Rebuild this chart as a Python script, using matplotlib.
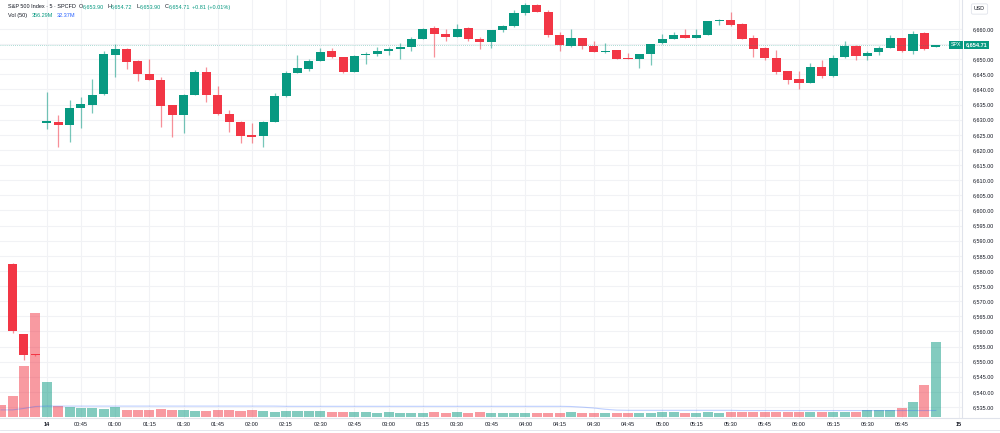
import numpy as np
import matplotlib
matplotlib.use("Agg")
import matplotlib.pyplot as plt

plt.rcParams["font.family"] = ["Liberation Sans", "DejaVu Sans"]

UP = "#089981"
DOWN = "#F23645"
TEXT = "#131722"
GRID = "#F1F2F5"
LINE = "#E0E3EB"

# 5 min bars, index 0 = first bar of the 14th (00:30); -4..-1 are the close of the 13th
bar_idx = list(range(-4, 79))
nan = float("nan")
opens = [nan, 6582.2, 6559.1, 6552.4,
         6628.9, 6629.3, 6628.4, 6633.9, 6635.0, 6638.4, 6651.3, 6653.5, 6649.4, 6645.2,
         6643.2, 6634.8, 6631.7, 6638.3, 6645.7, 6638.3, 6632.0, 6629.3, 6624.9, 6624.5,
         6629.3, 6637.7, 6645.4, 6646.9, 6649.5, 6652.6, 6650.7, 6645.9, 6651.4, 6651.6,
         6652.7, 6653.4, 6654.1, 6656.7, 6660.2, 6658.4, 6657.5, 6660.3, 6656.7, 6655.6,
         6659.6, 6660.9, 6665.3, 6667.9, 6665.6, 6658.1, 6654.5, 6657.0, 6654.3, 6652.3,
         6653.0, 6650.4, 6650.2, 6651.7, 6655.4, 6656.7, 6658.1, 6657.1, 6658.0, 6662.6,
         6662.9, 6661.7, 6657.0, 6653.8, 6650.5, 6646.0, 6643.5, 6642.1, 6647.4, 6644.3,
         6650.6, 6654.5, 6651.0, 6652.3, 6653.8, 6657.0, 6652.7, 6658.7, 6653.90]
highs = [nan, 6582.6, 6559.3, 6552.5,
         6639.3, 6631.6, 6636.5, 6637.4, 6643.5, 6652.6, 6654.9, 6653.7, 6649.6, 6650.0,
         6644.2, 6635.0, 6638.5, 6646.4, 6647.5, 6641.2, 6633.2, 6629.5, 6628.8, 6629.5,
         6638.9, 6646.0, 6651.4, 6650.0, 6653.8, 6653.6, 6650.8, 6651.3, 6652.5, 6654.0,
         6654.1, 6655.5, 6657.4, 6660.3, 6661.0, 6659.9, 6661.7, 6660.5, 6657.4, 6659.8,
         6661.3, 6666.2, 6668.7, 6668.3, 6666.2, 6659.0, 6660.0, 6657.1, 6655.9, 6655.3,
         6653.1, 6652.2, 6651.8, 6655.2, 6658.2, 6659.1, 6659.9, 6659.9, 6662.8, 6663.3,
         6665.6, 6662.1, 6658.1, 6653.9, 6653.0, 6646.1, 6646.1, 6648.7, 6649.6, 6651.3,
         6656.0, 6654.6, 6652.7, 6654.4, 6658.0, 6657.1, 6659.2, 6659.0, 6654.72]
lows = [nan, 6559.5, 6550.5, 6552.0,
        6627.0, 6620.9, 6622.6, 6627.2, 6632.1, 6638.2, 6644.2, 6646.9, 6642.9, 6643.0,
        6627.5, 6624.4, 6625.7, 6638.2, 6635.9, 6631.6, 6626.0, 6622.4, 6622.2, 6621.1,
        6629.2, 6637.4, 6645.3, 6646.0, 6649.4, 6650.5, 6645.5, 6645.8, 6648.5, 6651.1,
        6651.3, 6650.2, 6652.8, 6656.6, 6650.8, 6656.1, 6657.4, 6656.1, 6653.5, 6653.8,
        6658.9, 6660.8, 6664.7, 6665.5, 6657.4, 6652.8, 6653.9, 6653.5, 6652.4, 6652.0,
        6650.0, 6650.1, 6647.1, 6648.1, 6654.9, 6656.6, 6657.0, 6657.0, 6657.9, 6661.2,
        6661.1, 6656.6, 6650.8, 6649.8, 6645.2, 6641.8, 6640.3, 6642.0, 6643.8, 6644.2,
        6650.5, 6649.7, 6649.7, 6651.4, 6653.7, 6652.4, 6651.6, 6653.2, 6653.90]
closes = [nan, 6560.1, 6552.2, 6552.1,
          6629.7, 6628.3, 6633.9, 6635.1, 6638.3, 6651.6, 6653.4, 6649.2, 6645.1, 6643.2,
          6634.4, 6631.5, 6638.3, 6645.8, 6638.3, 6631.8, 6629.3, 6624.7, 6624.3, 6629.3,
          6637.8, 6645.4, 6647.0, 6649.4, 6652.3, 6650.6, 6645.9, 6651.1, 6651.8, 6652.6,
          6653.4, 6654.0, 6656.7, 6660.0, 6658.2, 6657.4, 6660.1, 6656.8, 6655.6, 6659.6,
          6660.9, 6665.3, 6667.8, 6665.6, 6658.1, 6654.6, 6657.0, 6654.3, 6652.5, 6652.8,
          6650.1, 6650.2, 6651.7, 6655.1, 6656.7, 6658.1, 6657.1, 6658.1, 6662.6, 6662.9,
          6661.4, 6656.8, 6653.5, 6650.4, 6645.9, 6643.1, 6642.1, 6647.4, 6644.4, 6650.5,
          6654.5, 6651.0, 6652.2, 6653.6, 6657.0, 6652.7, 6658.2, 6653.4, 6654.71]
# volume in millions
volumes = [58, 101, 243, 492,
           168, 53, 49, 43, 43, 38, 49, 36, 36, 35,
           38, 35, 33, 31, 31, 35, 33, 30, 35, 30,
           26, 30, 30, 30, 31, 26, 24, 25, 24, 20,
           24, 20, 20, 20, 26, 22, 25, 20, 26, 22,
           20, 20, 20, 20, 22, 22, 25, 22, 20, 20,
           20, 20, 20, 20, 24, 24, 20, 20, 24, 19,
           25, 25, 25, 25, 25, 25, 25, 25, 25, 25,
           25, 25, 35, 35, 35, 45, 74, 153, 356.29]
vol_ma = [35, 35, 42, 51,
          53, 53, 53, 53, 53, 53, 53, 53, 53, 53,
          53, 53, 53, 53, 53, 53, 53, 53, 53, 53,
          53, 52, 52, 52, 52, 52, 52, 52, 52, 52,
          52, 52, 52, 52, 52, 52, 52, 52, 52, 52,
          52, 52, 52, 52, 52, 52, 51, 48, 44, 38,
          34, 33, 33, 33, 33, 33, 33, 33, 33, 33,
          33, 32, 32, 32, 32, 32, 32, 32, 32, 32,
          32, 32, 32, 32, 32, 32, 32, 32, 32.37]

time_ticks = [0, 3, 6, 9, 12, 15, 18, 21, 24, 27, 30, 33, 36, 39, 42, 45, 48, 51,
              54, 57, 60, 63, 66, 69, 72, 75, 80]
time_labels = ["14", "00:45", "01:00", "01:15", "01:30", "01:45", "02:00", "02:15",
               "02:30", "02:45", "03:00", "03:15", "03:30", "03:45", "04:00", "04:15",
               "04:30", "04:45", "05:00", "05:15", "05:30", "05:45", "06:00", "06:15",
               "06:30", "06:45", "15"]
last_price = 6654.71

x = np.array(bar_idx, dtype=float)
o = np.array(opens)
h = np.array(highs)
l = np.array(lows)
c = np.array(closes)
up = c > o

W, H = 1000, 433
fig = plt.figure(figsize=(10, 4.33), dpi=100)
rect = [0, 15 / H, 962 / W, 418 / H]
ax = fig.add_axes(rect)
ax_vol = fig.add_axes(rect, sharex=ax)
ax_bg = fig.add_axes(rect, sharex=ax, sharey=ax)
ax_bg.set_zorder(0)
ax_vol.set_zorder(1)
ax.set_zorder(2)
ax.patch.set_visible(False)
ax_vol.patch.set_visible(False)

ax.set_xlim(-4.1, 80.3)
ax.set_ylim(6531.36, 6669.59)
ax_vol.set_ylim(-3.3, 1974)

# grid layer; the 6,655 label sits under the last-price tag, as in the app
price_ticks = np.arange(6535, 6661, 5)
price_labels = [f"{int(p):,}.00" for p in price_ticks]
price_labels[list(price_ticks).index(6655)] = ""
ax.set_xticks(time_ticks)
ax.set_xticklabels(time_labels)
ax.set_yticks(price_ticks)
ax.set_yticklabels(price_labels)
ax_bg.grid(True, color=GRID, lw=0.8)
for a in (ax_bg, ax_vol):
    a.tick_params(length=0, labelleft=False, labelright=False, labelbottom=False)
    for s in a.spines.values():
        s.set_visible(False)
ax_vol.set_yticks([])

# volume
vcol = [UP if u else DOWN for u in up]
ax_vol.bar(x, volumes, width=0.88, color=vcol, alpha=0.5, linewidth=0)
ax_vol.plot(x, vol_ma, color="#2962FF", alpha=0.3, lw=0.8)

# candles
ccol = np.where(up, UP, DOWN)
ax.vlines(x, l, h, colors=ccol, lw=0.9, alpha=0.55)
body = np.maximum(np.abs(c - o), 0.35)
ax.bar(x, body, bottom=np.minimum(o, c), width=0.8, color=ccol, linewidth=0)

ax.axhline(last_price, color=UP, lw=0.6, ls=(0, (1, 1.5)), alpha=0.45)

# axes styling
ax.yaxis.tick_right()
ax.tick_params(axis="y", length=0, pad=7.6, labelsize=4, labelcolor=TEXT)
ax.tick_params(axis="x", length=0, pad=2.6, labelsize=4, labelcolor=TEXT)
for lab in ax.get_xticklabels():
    if lab.get_text() in ("14", "15"):
        lab.set_fontweight("bold")
for s in ("top", "left"):
    ax.spines[s].set_visible(False)
ax.spines["right"].set_color(LINE)
ax.spines["right"].set_linewidth(0.8)
ax.spines["bottom"].set_visible(False)
fig.add_artist(plt.Line2D([0, 1], [1 - 418 / H] * 2, color=LINE, lw=0.8))
fig.add_artist(plt.Line2D([0, 1], [1 - 430 / H] * 2, color=LINE, lw=0.6))

# last price tag
tr = ax.get_yaxis_transform()
ax.text(0.9995, last_price, "SPX", transform=tr, ha="right", va="center",
        fontsize=3.8, color="white", zorder=10,
        bbox=dict(boxstyle="square,pad=0.35", fc=UP, ec="none"))
ax.text(1.004, last_price, f"{last_price:,.2f}", transform=tr, ha="left", va="center",
        fontsize=4, color="white", zorder=10, fontweight="bold",
        bbox=dict(boxstyle="square,pad=0.35", fc=UP, ec="none"))

fig.text(979.5 / W, 1 - 9 / H, "USD", ha="center", va="center", fontsize=3.8,
         color=TEXT, bbox=dict(boxstyle="round,pad=0.5,rounding_size=0.3",
                               fc="white", ec=LINE, lw=0.6))

# legend header
def htext(xp, yp, s, color):
    fig.text(xp / W, 1 - yp / H, s, ha="left", va="center", fontsize=4, color=color)

htext(8, 7, "S&P 500 Index \u00b7 5 \u00b7 SPCFD", TEXT)
for xl, letter, xv, val in [(78.5, "O", 82.3, opens[-1]), (107.2, "H", 110.7, highs[-1]),
                            (136.7, "L", 139.7, lows[-1]), (165, "C", 168.7, closes[-1])]:
    htext(xl, 7, letter, TEXT)
    htext(xv, 7, f"{val:,.2f}", UP)
chg = closes[-1] - opens[-1]
htext(192.3, 7, f"+{chg:.2f} (+{chg / opens[-1] * 100:.2f}%)", UP)
htext(8, 15.3, "Vol (50)", TEXT)
htext(32, 15.3, f"{volumes[-1]:.2f}M", UP)
htext(57, 15.3, f"{vol_ma[-1]:.2f}M", "#2962FF")

fig.savefig("out.png", dpi=100, facecolor="white")
